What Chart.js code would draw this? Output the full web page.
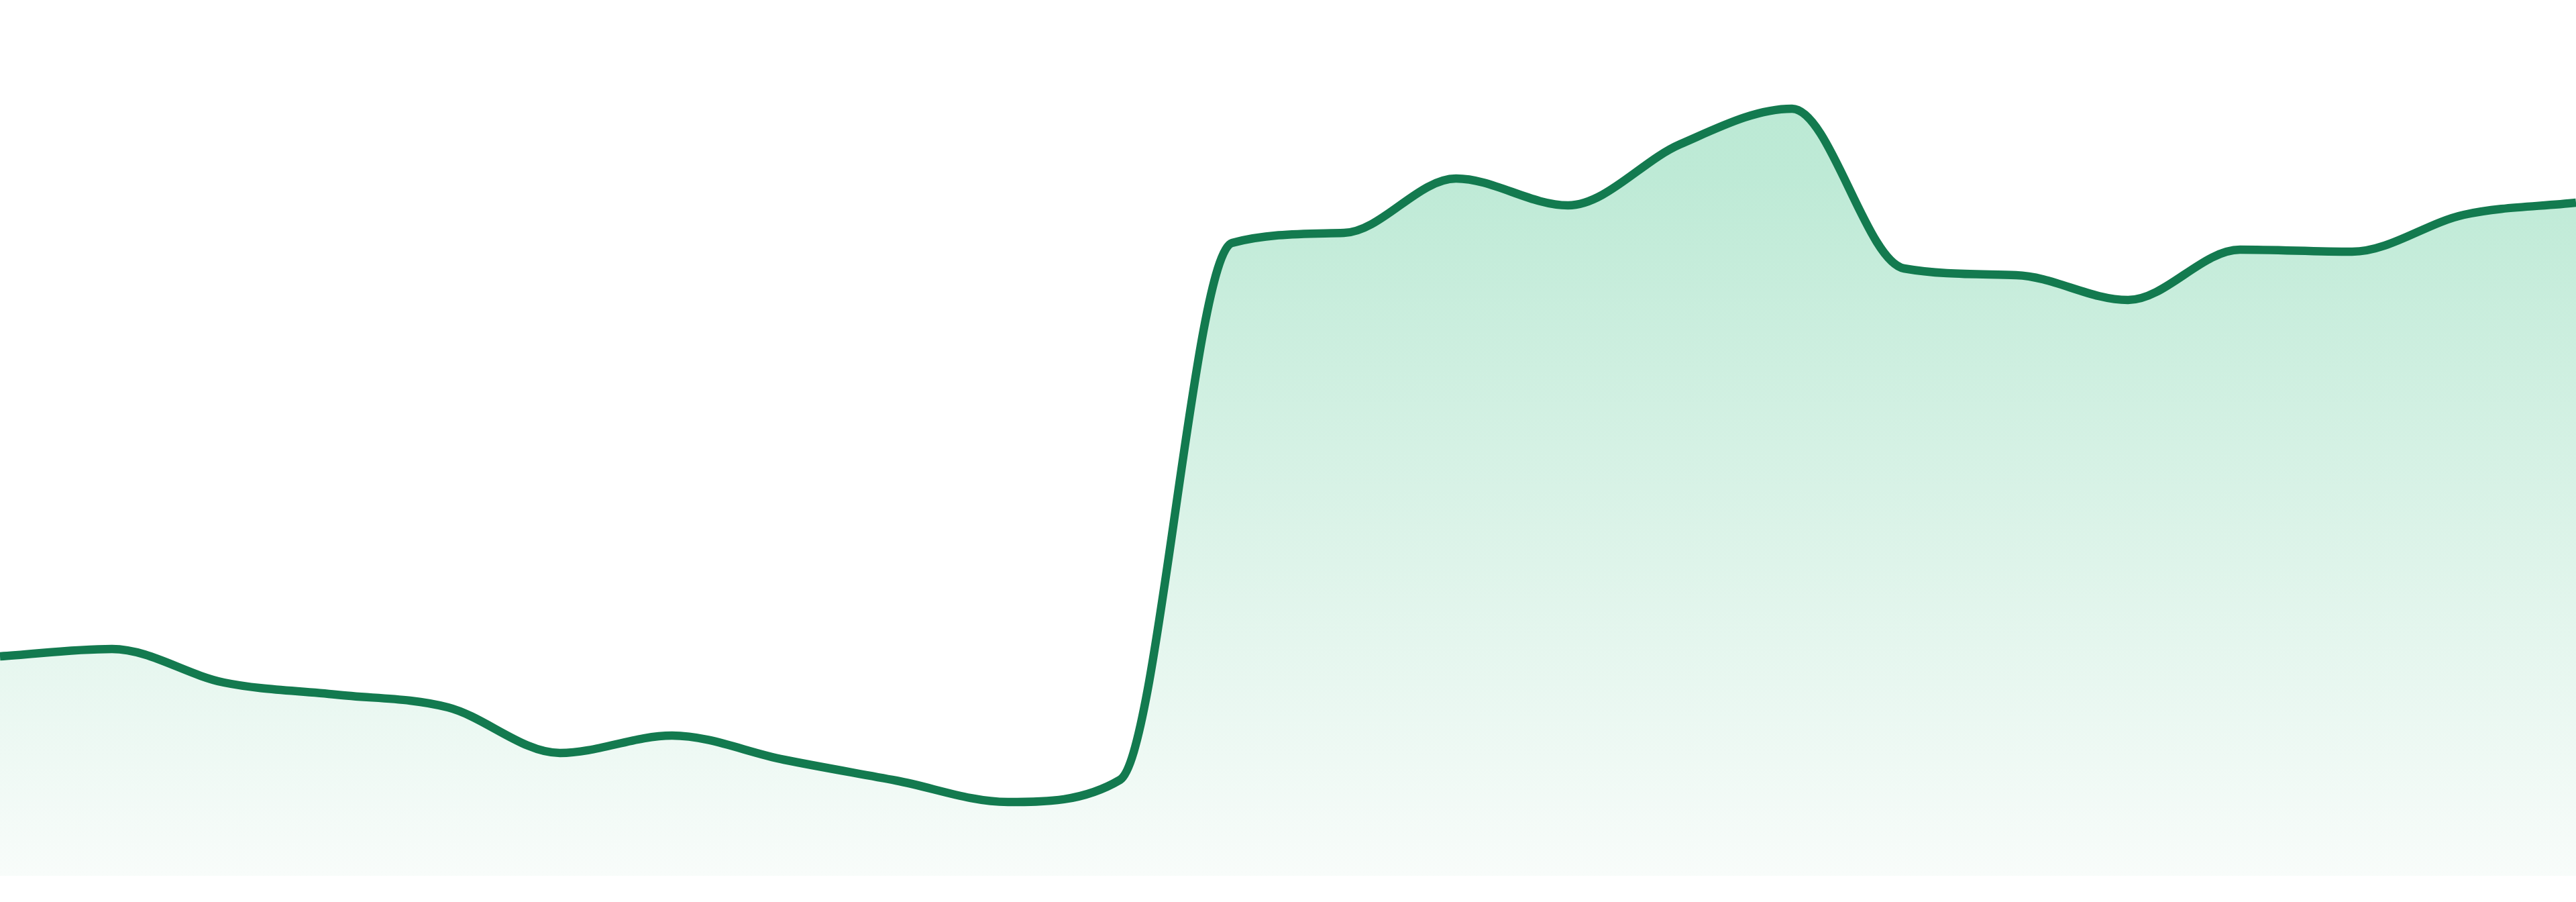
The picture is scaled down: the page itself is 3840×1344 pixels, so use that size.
<!DOCTYPE html>
<html>
<head>
<meta charset="utf-8">
<script src="https://cdn.jsdelivr.net/npm/chart.js@4"></script>
<style>
html,body{margin:0;padding:0;background:#ffffff;overflow:hidden;}
#wrap{width:3840px;height:1344px;}
</style>
</head>
<body>
<div id="wrap"><canvas id="c" width="3840" height="1344"></canvas></div>
<script>
const categories = ["1","2","3","4","5","6","7","8","9","10","11","12","13","14","15","16","17","18","19","20","21","22","23","24"];
const seriesValues = [327, 338, 288, 270, 251, 183, 209, 173, 142, 110, 143, 943, 958, 1039, 999, 1090, 1143, 905, 895, 858, 933, 930, 985, 1003];
const yMin = 0;
const yMax = 1305;

const lineColor = '#137a4f';

const ctx = document.getElementById('c').getContext('2d');
new Chart(ctx, {
  type: 'line',
  data: {
    labels: categories,
    datasets: [{
      data: seriesValues,
      borderColor: lineColor,
      borderWidth: 12.5,
      cubicInterpolationMode: 'monotone',
      tension: 0.4,
      pointRadius: 0,
      pointHoverRadius: 0,
      fill: 'start',
      backgroundColor: function(context) {
        const chart = context.chart;
        const area = chart.chartArea;
        if (!area) return 'rgba(189,234,213,0.6)';
        const g = chart.ctx.createLinearGradient(0, area.top, 0, area.bottom);
        g.addColorStop(0, 'rgb(184,232,210)');
        g.addColorStop(0.2, 'rgb(190,234,214)');
        g.addColorStop(1, 'rgb(248,252,250)');
        return g;
      }
    }]
  },
  options: {
    responsive: false,
    devicePixelRatio: 1,
    animation: false,
    layout: { padding: { top: 0, left: 0, right: 0, bottom: 39 } },
    plugins: { legend: { display: false }, tooltip: { enabled: false } },
    scales: {
      x: { display: false, offset: false },
      y: { display: false, min: yMin, max: yMax }
    }
  }
});
</script>
</body>
</html>
